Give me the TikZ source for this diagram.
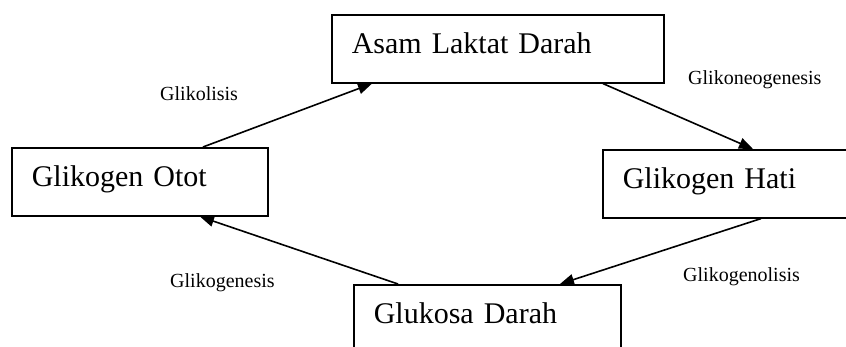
\documentclass[tikz,border=0pt]{standalone}
\usepackage{fontspec}
\setmainfont{Liberation Serif}
\usetikzlibrary{arrows.meta}
\begin{document}
\begin{tikzpicture}[x=1pt,y=-1pt,
  stagebox/.style={draw=black, line width=1.6pt, rectangle, anchor=north west,
    minimum height=68pt, inner xsep=20pt, inner ysep=0pt, align=left,
    text height=15pt, text depth=6pt, font=\fontsize{30}{36}\selectfont},
  steplabel/.style={anchor=base west, inner sep=0pt, font=\fontsize{20}{24}\selectfont},
  flow/.style={line width=1.6pt, -{Triangle[length=14pt,width=11pt]}}]
  \useasboundingbox (0,0) rectangle (846,347);
  \clip (0,0) rectangle (846,347);
  \fill[white] (0,0) rectangle (846,347);

  % stages of the cycle
  \node[stagebox, minimum width=332pt, text width=292pt] (laktat) at (331,14) {Asam Laktat Darah};
  \node[stagebox, minimum width=256pt, text width=216pt] (otot) at (11,147) {Glikogen Otot};
  \node[stagebox, minimum width=252pt, text width=212pt] (hati) at (602,149) {Glikogen Hati};
  \node[stagebox, minimum width=267pt, text width=227pt] (glukosa) at (353,284) {Glukosa Darah};

  % conversions between stages
  \draw[flow] ([xshift=192pt]otot.north west) -- ([xshift=41pt]laktat.south west);
  \draw[flow] ([xshift=272pt]laktat.south west) -- ([xshift=151pt]hati.north west);
  \draw[flow] ([xshift=159pt]hati.south west) -- ([xshift=207pt]glukosa.north west);
  \draw[flow] ([xshift=45pt]glukosa.north west) -- ([xshift=189pt]otot.south west);

  % process names
  \node[steplabel] (l1) at (160,101) {Glikolisis};
  \node[steplabel] (l2) at (688,85) {Glikoneogenesis};
  \node[steplabel] (l3) at (683,282) {Glikogenolisis};
  \node[steplabel] (l4) at (170,288) {Glikogenesis};
\end{tikzpicture}
\end{document}
